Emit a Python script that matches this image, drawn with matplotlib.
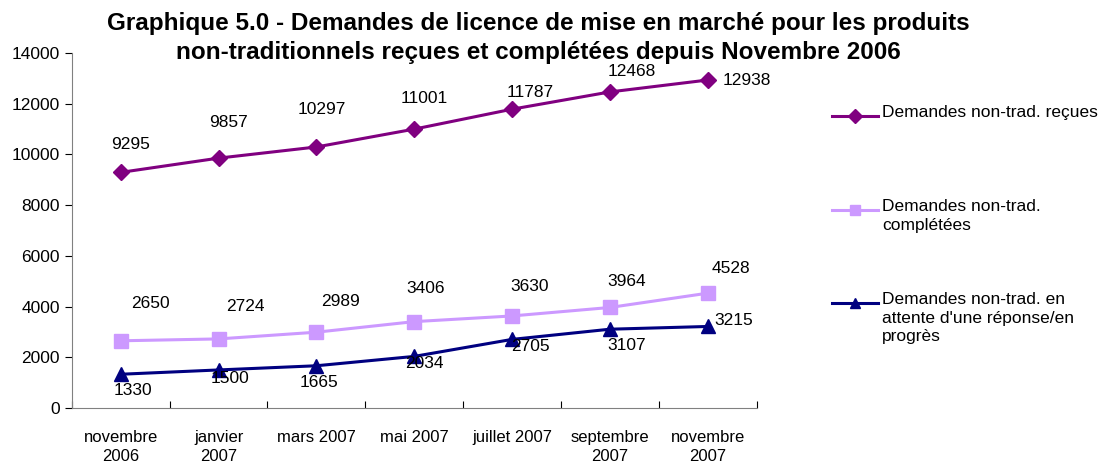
import matplotlib.pyplot as plt
from matplotlib.lines import Line2D

plt.rcParams['font.family'] = ['Liberation Sans', 'DejaVu Sans']

# Data
months = ['novembre\n2006', 'janvier\n2007', 'mars 2007', 'mai 2007',
          'juillet 2007', 'septembre\n2007', 'novembre\n2007']
recues = [9295, 9857, 10297, 11001, 11787, 12468, 12938]
completees = [2650, 2724, 2989, 3406, 3630, 3964, 4528]
attente = [1330, 1500, 1665, 2034, 2705, 3107, 3215]

names = ['Demandes non-trad. reçues',
         'Demandes non-trad.\ncomplétées',
         "Demandes non-trad. en\nattente d'une réponse/en\nprogrès"]
colors = ['#800080', '#CC99FF', '#000080']
markers = ['D', 's', '^']
msizes = [8, 10, 10]

# label offsets in points (dx, dy)
off_recues = [(7, 20), (7, 26), (4, 27), (7, 22), (13, 12), (16, 15), (28, 0)]
off_comp = [(21, 27), (19, 23), (17, 22), (8, 24), (13, 21), (12, 19), (17, 18)]
off_att = [(9, -12), (8, -6), (2, -12), (7, -5), (13, -5), (12, -12), (19, 4)]

fig = plt.figure(figsize=(11.06, 4.70), dpi=100)
ax = fig.add_axes([0.065, 0.132, 0.619, 0.755])

x = range(len(months))
for vals, c, m, ms in zip([recues, completees, attente], colors, markers, msizes):
    ax.plot(x, vals, color=c, lw=2.2, marker=m, ms=ms)

for vals, offs in [(recues, off_recues), (completees, off_comp), (attente, off_att)]:
    for i, (v, o) in enumerate(zip(vals, offs)):
        ax.annotate(str(v), (i, v), xytext=o, textcoords='offset points',
                    ha='center', va='center', fontsize=12.5)

ax.set_xlim(-0.5, len(months) - 0.5)
ax.set_ylim(0, 14000)
ax.set_yticks(range(0, 14001, 2000))
ax.set_xticks([i - 0.5 for i in range(len(months) + 1)])
ax.set_xticklabels([])
ax.set_xticks(list(x), minor=True)
ax.set_xticklabels(months, minor=True, fontsize=12, linespacing=1.35)
ax.tick_params(axis='x', which='minor', length=0, pad=16)
ax.tick_params(axis='x', which='major', length=5, direction='in')
ax.tick_params(axis='y', labelsize=12.5, length=5, direction='out')
for s in ['top', 'right']:
    ax.spines[s].set_visible(False)
for s in ['left', 'bottom']:
    ax.spines[s].set_color('#808080')

fig.text(0.487, 0.919,
         'Graphique 5.0 - Demandes de licence de mise en marché pour les produits\n'
         'non-traditionnels reçues et complétées depuis Novembre 2006',
         ha='center', va='center', fontsize=17.5, fontweight='bold', linespacing=1.3)

# legend drawn by hand so the marker sits on the first text line
leg_y = [116, 210, 303]
for name, c, m, yp in zip(names, colors, markers, leg_y):
    yf = 1 - yp / 470
    fig.add_artist(Line2D([832 / 1106, 878 / 1106], [yf, yf], color=c, lw=2.2,
                          transform=fig.transFigure))
    fig.add_artist(Line2D([855 / 1106], [yf], color=c, marker=m, ms=7,
                          transform=fig.transFigure))
    fig.text(882 / 1106, yf + 11 / 470, name, ha='left', va='top',
             fontsize=12.5, linespacing=1.3)

fig.savefig('out.png', dpi=100)
